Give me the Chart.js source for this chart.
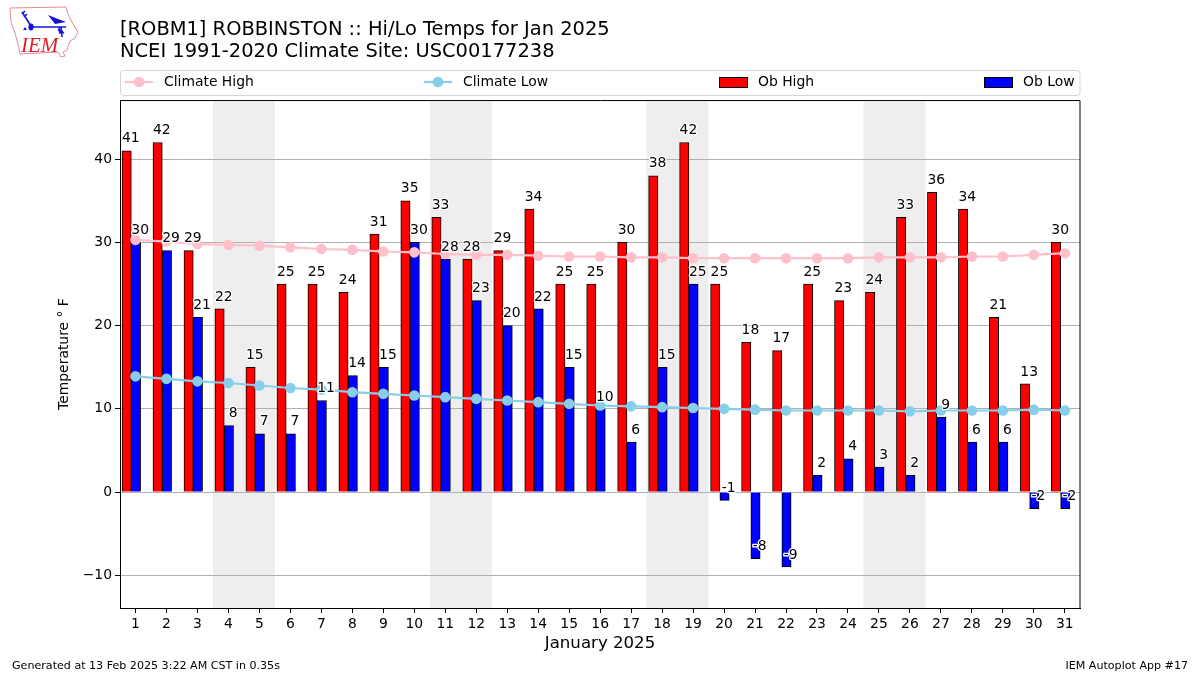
<!DOCTYPE html>
<html>
<head>
<meta charset="utf-8">
<title>ROBM1 Hi/Lo Temps</title>
<script src="https://cdn.jsdelivr.net/npm/chart.js@4"></script>
<style>
body { margin: 0; background: #fff; }
#wrap { position: relative; width: 1200px; height: 675px; }
#logo { position: absolute; left: 0; top: 0; }
</style>
</head>
<body>
<div id="wrap">
<canvas id="tempChart" width="1200" height="675"></canvas>
<svg id="logo" width="90" height="62" viewBox="0 0 90 62">
  <path d="M10 8 L66 7 L68 14 L72 22 L78 32 L75 38 L70 41 L67 50 L63 52 L65 56 L61 57 L58 52 L20 54 L18 44 L15 33 L11 22 Z" fill="none" stroke="#e58a8f" stroke-width="1"/>
  <g stroke="#1414d8" fill="none" stroke-width="1.6">
    <path d="M22 12 L31 26 M22 14 L25 11 M24 17 L27 14"/>
    <path d="M31 27 L66 27 M59 27 L60 33 L63 31 M61 27 L62 37 M58 30 L64 33"/>
  </g>
  <ellipse cx="31" cy="27" rx="2.6" ry="3.4" fill="#1414d8"/>
  <path d="M48 15 L58 19 L66 22 L55 24 Z" fill="#1414d8"/>
  <path d="M23 30 L25 27 L27 30 Z" fill="#1414d8"/>
  <text x="21" y="52" font-family="Liberation Serif" font-style="italic" font-size="21" fill="#d8242c">IEM</text>
</svg>
</div>
<script>
// Hi/Lo temperatures for ROBM1, January 2025
const days = [1,2,3,4,5,6,7,8,9,10,11,12,13,14,15,16,17,18,19,20,21,22,23,24,25,26,27,28,29,30,31];
const obHigh = [41,42,29,22,15,25,25,24,31,35,33,28,29,34,25,25,30,38,42,25,18,17,25,23,24,33,36,34,21,13,30];
const obLow = [30,29,21,8,7,7,11,14,15,30,28,23,20,22,15,10,6,15,25,-1,-8,-9,2,4,3,2,9,6,6,-2,-2];
const climateHigh = [30.3,30.1,29.8,29.7,29.6,29.4,29.2,29.1,28.9,28.8,28.6,28.5,28.5,28.4,28.3,28.3,28.2,28.2,28.1,28.1,28.1,28.1,28.1,28.1,28.2,28.2,28.2,28.3,28.3,28.5,28.7];
const climateLow = [13.9,13.6,13.3,13.1,12.8,12.5,12.3,12.0,11.8,11.6,11.4,11.2,11.0,10.8,10.6,10.4,10.3,10.2,10.1,10.0,9.9,9.8,9.8,9.8,9.8,9.7,9.8,9.8,9.8,9.9,9.8];
const weekends = [[3.5,5.5],[10.5,12.5],[17.5,19.5],[24.5,26.5]];
const titleLines = ['[ROBM1] ROBBINSTON :: Hi/Lo Temps for Jan 2025', 'NCEI 1991-2020 Climate Site: USC00177238'];

const FONT = '"DejaVu Sans"';

// grey weekend bands go under the grid
const weekendPlugin = {
    id: 'weekendBands',
    beforeDraw(chart) {
        const { ctx, chartArea, scales } = chart;
        ctx.save();
        ctx.fillStyle = '#eeeeee';
        weekends.forEach(w => {
            const a = scales.x.getPixelForValue(w[0]);
            const b = scales.x.getPixelForValue(w[1]);
            ctx.fillRect(a, chartArea.top, b - a, chartArea.bottom - chartArea.top);
        });
        ctx.restore();
    }
};

// value labels with white halo, plot frame, legend box, footer
const overlayPlugin = {
    id: 'overlay',
    afterDatasetsDraw(chart) {
        const { ctx, chartArea, scales } = chart;
        ctx.save();
        ctx.font = '13.9px ' + FONT;
        ctx.textAlign = 'center';
        ctx.textBaseline = 'alphabetic';
        ctx.lineJoin = 'round';
        const label = (d, v, shift) => {
            const x = scales.x.getPixelForValue(d + shift);
            const y = scales.y.getPixelForValue(v + 1);
            ctx.strokeStyle = '#fff';
            ctx.lineWidth = 2.5;
            ctx.strokeText(String(v), x, y);
            ctx.fillStyle = '#000';
            ctx.fillText(String(v), x, y);
        };
        days.forEach((d, i) => {
            label(d, obHigh[i], -0.15);
            label(d, obLow[i], 0.15);
        });
        ctx.strokeStyle = '#000';
        ctx.lineWidth = 1;
        ctx.strokeRect(chartArea.left + 0.5, chartArea.top + 0.5, chartArea.right - chartArea.left - 0.5, chartArea.bottom - chartArea.top);
        ctx.restore();
    },
    afterDraw(chart) {
        const { ctx } = chart;
        ctx.save();
        ctx.strokeStyle = '#d5d5d5';
        ctx.lineWidth = 1;
        ctx.beginPath();
        ctx.roundRect(120.5, 70.5, 959.5, 25, 3);
        ctx.stroke();

        ctx.font = '13.9px ' + FONT;
        ctx.textBaseline = 'middle';
        ctx.textAlign = 'left';
        const lineEntry = (x, color, text, textX) => {
            ctx.strokeStyle = color;
            ctx.lineWidth = 2.2;
            ctx.beginPath();
            ctx.moveTo(x, 82);
            ctx.lineTo(x + 28, 82);
            ctx.stroke();
            ctx.fillStyle = color;
            ctx.beginPath();
            ctx.arc(x + 14, 82, 5.3, 0, Math.PI * 2);
            ctx.fill();
            ctx.fillStyle = '#000';
            ctx.fillText(text, textX, 82);
        };
        const boxEntry = (x, color, text, textX) => {
            ctx.fillStyle = color;
            ctx.fillRect(x + 0.5, 77.5, 28, 10);
            ctx.strokeStyle = '#000';
            ctx.lineWidth = 1;
            ctx.strokeRect(x + 0.5, 77.5, 28, 10);
            ctx.fillStyle = '#000';
            ctx.fillText(text, textX, 82);
        };
        lineEntry(125, 'pink', 'Climate High', 164);
        lineEntry(424, 'skyblue', 'Climate Low', 463);
        boxEntry(719, 'red', 'Ob High', 758);
        boxEntry(984, 'blue', 'Ob Low', 1023);

        ctx.font = '11.1px ' + FONT;
        ctx.fillText('Generated at 13 Feb 2025 3:22 AM CST in 0.35s', 12, 666);
        ctx.textAlign = 'right';
        ctx.fillText('IEM Autoplot App #17', 1188, 666);
        ctx.restore();
    }
};

const ctx = document.getElementById('tempChart').getContext('2d');
const tempChart = new Chart(ctx, {
    type: 'bar',
    data: {
        datasets: [{
            type: 'line',
            label: 'Climate High',
            data: days.map((d, i) => ({ x: d, y: climateHigh[i] })),
            borderColor: 'pink',
            backgroundColor: 'pink',
            borderWidth: 2.2,
            pointRadius: 5.3,
            pointBorderWidth: 0,
            order: 0
        }, {
            type: 'line',
            label: 'Climate Low',
            data: days.map((d, i) => ({ x: d, y: climateLow[i] })),
            borderColor: 'skyblue',
            backgroundColor: 'skyblue',
            borderWidth: 2.2,
            pointRadius: 5.3,
            pointBorderWidth: 0,
            order: 0
        }, {
            label: 'Ob High',
            data: days.map((d, i) => ({ x: d - 0.285, y: obHigh[i] })),
            backgroundColor: 'red',
            borderColor: '#000',
            borderWidth: 1,
            barThickness: 9.3,
            grouped: false,
            order: 1
        }, {
            label: 'Ob Low',
            data: days.map((d, i) => ({ x: d + 0.015, y: obLow[i] })),
            backgroundColor: 'blue',
            borderColor: '#000',
            borderWidth: 1,
            barThickness: 9.3,
            grouped: false,
            order: 1
        }]
    },
    options: {
        responsive: false,
        animation: false,
        layout: { padding: { right: 120 } },
        font: { family: FONT },
        plugins: {
            legend: { display: false },
            tooltip: { enabled: false },
            title: {
                display: true,
                text: titleLines,
                align: 'start',
                fullSize: false,
                color: '#000',
                font: { family: FONT, size: 19.45, weight: 'normal', lineHeight: 1.15 },
                padding: { top: 18.6, bottom: 36.7 }
            }
        },
        scales: {
            x: {
                type: 'linear',
                min: 0.5,
                max: 31.49,
                offset: false,
                afterFit(scale) { scale.height = 67; },
                grid: { offset: false, drawOnChartArea: false, drawTicks: true, tickLength: 5, tickColor: '#000' },
                border: { color: '#000' },
                ticks: {
                    stepSize: 1,
                    includeBounds: false,
                    autoSkip: false,
                    maxRotation: 0,
                    color: '#000',
                    padding: 3,
                    font: { family: FONT, size: 13.9 }
                },
                title: {
                    display: true,
                    text: 'January 2025',
                    color: '#000',
                    font: { family: FONT, size: 16.6 },
                    padding: { top: 4, bottom: 21 }
                }
            },
            y: {
                min: -13.93,
                max: 47.1,
                afterFit(scale) { scale.width = 120; },
                grid: { color: '#b0b0b0', lineWidth: 1, tickLength: 5, tickColor: '#000' },
                border: { color: '#000' },
                ticks: {
                    stepSize: 10,
                    includeBounds: false,
                    color: '#000',
                    padding: 3,
                    font: { family: FONT, size: 13.9 },
                    callback: v => String(v).replace('-', '\u2212')
                },
                title: {
                    display: true,
                    text: 'Temperature \u00b0 F',
                    color: '#000',
                    font: { family: FONT, size: 13.9 },
                    padding: { top: 56, bottom: 0 }
                }
            }
        }
    },
    plugins: [weekendPlugin, overlayPlugin]
});
</script>
</body>
</html>
